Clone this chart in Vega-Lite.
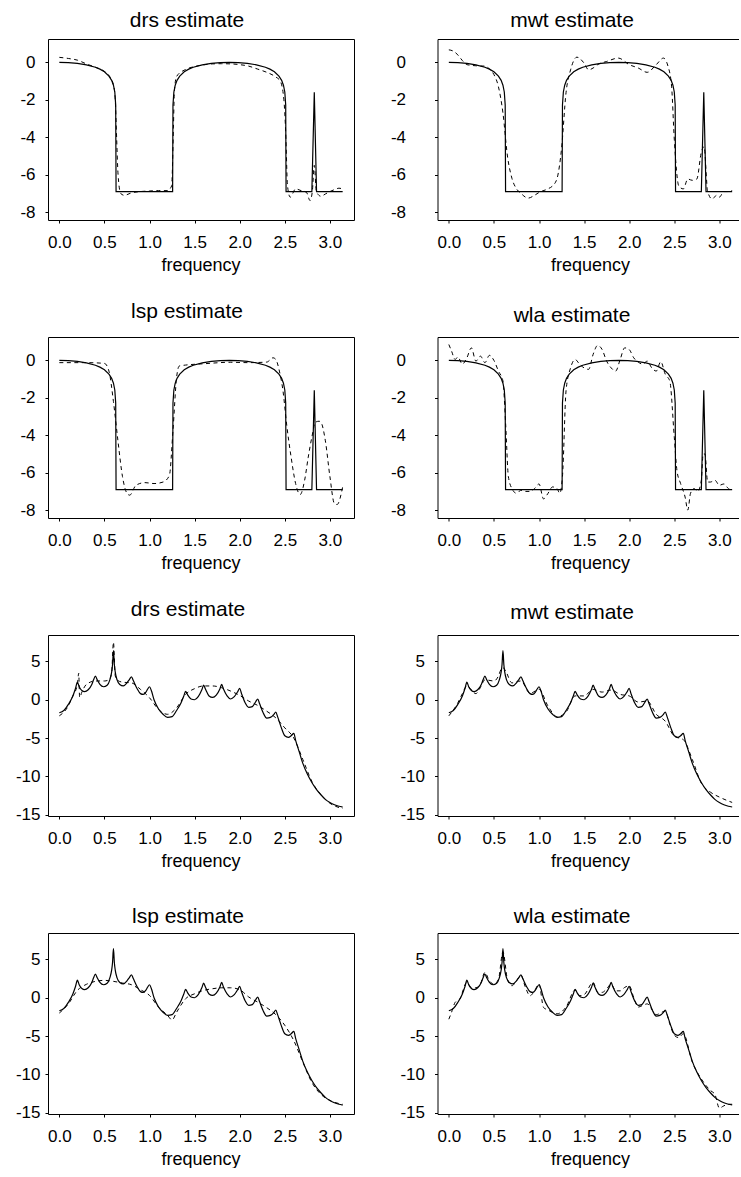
{
"$schema": "https://vega.github.io/schema/vega-lite/v6.json",
"background": "white",
"padding": {"left": 15, "top": 10, "right": 0, "bottom": 0},
"columns": 2,
"bounds": "flush",
"spacing": {"row": 117, "column": 83.5},
"config": {
  "font": "Liberation Sans",
  "view": {"stroke": null},
  "axis": {"grid": false, "domainColor": "black", "tickColor": "black", "labelColor": "black", "titleColor": "black", "labelFont": "Liberation Sans", "titleFont": "Liberation Sans", "labelFontSize": 17, "titleFontSize": 18, "titleFontWeight": "normal", "tickSize": 3, "domainWidth": 1, "tickWidth": 1},
  "title": {"font": "Liberation Sans", "fontSize": 21, "fontWeight": "normal", "color": "black", "frame": "group", "anchor": "middle"},
  "line": {"color": "black", "clip": true}
},
"datasets": {
  "tt": [{"f":0,"v":0},{"f":0.1,"v":-0.013},{"f":0.2,"v":-0.053},{"f":0.3,"v":-0.13},{"f":0.4,"v":-0.26},{"f":0.45,"v":-0.36},{"f":0.5,"v":-0.5},{"f":0.55,"v":-0.73},{"f":0.58,"v":-0.96},{"f":0.6,"v":-1.22},{"f":0.615,"v":-1.58},{"f":0.625,"v":-2.28},{"f":0.629,"v":-6.908},{"f":1.256,"v":-6.908},{"f":1.26,"v":-2.28},{"f":1.27,"v":-1.58},{"f":1.285,"v":-1.22},{"f":1.305,"v":-0.96},{"f":1.335,"v":-0.73},{"f":1.385,"v":-0.5},{"f":1.435,"v":-0.36},{"f":1.485,"v":-0.26},{"f":1.585,"v":-0.13},{"f":1.685,"v":-0.053},{"f":1.785,"v":-0.013},{"f":1.885,"v":0},{"f":1.985,"v":-0.013},{"f":2.085,"v":-0.053},{"f":2.185,"v":-0.13},{"f":2.285,"v":-0.26},{"f":2.335,"v":-0.36},{"f":2.385,"v":-0.5},{"f":2.435,"v":-0.73},{"f":2.465,"v":-0.96},{"f":2.485,"v":-1.22},{"f":2.5,"v":-1.58},{"f":2.51,"v":-2.28},{"f":2.514,"v":-6.908},{"f":2.8,"v":-6.908},{"f":2.827,"v":-1.6},{"f":2.852,"v":-6.908},{"f":3.1416,"v":-6.908}],
  "td_drs": [{"f":0,"v":0.27},{"f":0.1,"v":0.21},{"f":0.2,"v":0.12},{"f":0.3,"v":-0.08},{"f":0.4,"v":-0.26},{"f":0.5,"v":-0.48},{"f":0.55,"v":-0.7},{"f":0.6,"v":-1.2},{"f":0.62,"v":-2.0},{"f":0.635,"v":-4.0},{"f":0.65,"v":-5.9},{"f":0.68,"v":-7.0},{"f":0.72,"v":-7.1},{"f":0.8,"v":-6.97},{"f":0.9,"v":-6.9},{"f":1.0,"v":-6.87},{"f":1.1,"v":-6.85},{"f":1.2,"v":-6.85},{"f":1.245,"v":-6.6},{"f":1.265,"v":-3.5},{"f":1.275,"v":-1.6},{"f":1.3,"v":-0.75},{"f":1.4,"v":-0.38},{"f":1.5,"v":-0.22},{"f":1.6,"v":-0.13},{"f":1.7,"v":-0.08},{"f":1.8,"v":-0.07},{"f":1.9,"v":-0.08},{"f":2.0,"v":-0.12},{"f":2.1,"v":-0.2},{"f":2.2,"v":-0.36},{"f":2.3,"v":-0.53},{"f":2.4,"v":-0.78},{"f":2.45,"v":-1.0},{"f":2.49,"v":-2.0},{"f":2.51,"v":-3.75},{"f":2.53,"v":-6.6},{"f":2.56,"v":-7.2},{"f":2.62,"v":-6.76},{"f":2.68,"v":-6.85},{"f":2.74,"v":-6.94},{"f":2.78,"v":-7.38},{"f":2.805,"v":-6.9},{"f":2.827,"v":-5.5},{"f":2.85,"v":-6.9},{"f":2.9,"v":-7.15},{"f":2.95,"v":-7.03},{"f":3.0,"v":-6.9},{"f":3.05,"v":-6.8},{"f":3.1,"v":-6.72},{"f":3.1416,"v":-6.76}],
  "td_mwt": [{"f":0,"v":0.67},{"f":0.05,"v":0.6},{"f":0.1,"v":0.4},{"f":0.15,"v":0.1},{"f":0.2,"v":-0.12},{"f":0.3,"v":-0.18},{"f":0.4,"v":-0.2},{"f":0.45,"v":-0.35},{"f":0.5,"v":-0.65},{"f":0.55,"v":-1.3},{"f":0.6,"v":-2.7},{"f":0.65,"v":-5.0},{"f":0.7,"v":-6.2},{"f":0.75,"v":-6.75},{"f":0.8,"v":-7.0},{"f":0.88,"v":-7.25},{"f":0.95,"v":-7.1},{"f":1.0,"v":-6.95},{"f":1.1,"v":-6.75},{"f":1.15,"v":-6.6},{"f":1.2,"v":-6.2},{"f":1.25,"v":-4.6},{"f":1.3,"v":-1.6},{"f":1.35,"v":-0.4},{"f":1.42,"v":0.28},{"f":1.5,"v":-0.04},{"f":1.55,"v":-0.4},{"f":1.6,"v":-0.3},{"f":1.65,"v":-0.12},{"f":1.75,"v":0.05},{"f":1.88,"v":0.23},{"f":2.0,"v":-0.12},{"f":2.1,"v":-0.3},{"f":2.2,"v":-0.53},{"f":2.3,"v":-0.12},{"f":2.38,"v":0.23},{"f":2.43,"v":-0.2},{"f":2.47,"v":-1.27},{"f":2.5,"v":-4.1},{"f":2.55,"v":-6.6},{"f":2.6,"v":-6.76},{"f":2.65,"v":-6.23},{"f":2.7,"v":-6.3},{"f":2.75,"v":-6.23},{"f":2.8,"v":-4.8},{"f":2.83,"v":-4.5},{"f":2.87,"v":-6.9},{"f":2.92,"v":-7.3},{"f":2.97,"v":-7.1},{"f":3.0,"v":-7.2},{"f":3.05,"v":-6.9},{"f":3.1,"v":-6.9},{"f":3.1416,"v":-6.85}],
  "td_lsp": [{"f":0,"v":-0.12},{"f":0.3,"v":-0.12},{"f":0.5,"v":-0.16},{"f":0.55,"v":-0.57},{"f":0.6,"v":-2.2},{"f":0.65,"v":-4.3},{"f":0.7,"v":-6.2},{"f":0.75,"v":-7.1},{"f":0.78,"v":-7.2},{"f":0.85,"v":-6.67},{"f":0.95,"v":-6.53},{"f":1.05,"v":-6.58},{"f":1.15,"v":-6.5},{"f":1.22,"v":-6.15},{"f":1.26,"v":-3.75},{"f":1.3,"v":-0.92},{"f":1.33,"v":-0.3},{"f":1.4,"v":-0.25},{"f":1.6,"v":-0.18},{"f":1.9,"v":-0.1},{"f":2.1,"v":-0.12},{"f":2.3,"v":-0.09},{"f":2.37,"v":0.14},{"f":2.4,"v":0.05},{"f":2.44,"v":-0.57},{"f":2.48,"v":-1.63},{"f":2.52,"v":-3.4},{"f":2.57,"v":-5.17},{"f":2.62,"v":-6.58},{"f":2.67,"v":-7.17},{"f":2.72,"v":-6.4},{"f":2.76,"v":-5.17},{"f":2.8,"v":-4.1},{"f":2.84,"v":-3.3},{"f":2.88,"v":-3.25},{"f":2.9,"v":-3.3},{"f":2.95,"v":-4.3},{"f":3.0,"v":-6.2},{"f":3.05,"v":-7.65},{"f":3.08,"v":-7.7},{"f":3.1416,"v":-6.76}],
  "td_wla": [{"f":0,"v":0.85},{"f":0.03,"v":0.5},{"f":0.07,"v":0.05},{"f":0.1,"v":0.18},{"f":0.15,"v":-0.2},{"f":0.2,"v":0.14},{"f":0.25,"v":0.67},{"f":0.3,"v":-0.04},{"f":0.35,"v":0.23},{"f":0.4,"v":-0.12},{"f":0.45,"v":0.27},{"f":0.5,"v":0.0},{"f":0.55,"v":-0.57},{"f":0.6,"v":-1.1},{"f":0.63,"v":-3.4},{"f":0.66,"v":-6.2},{"f":0.7,"v":-6.85},{"f":0.75,"v":-7.1},{"f":0.8,"v":-6.94},{"f":0.85,"v":-7.0},{"f":0.9,"v":-7.0},{"f":0.95,"v":-6.85},{"f":1.0,"v":-6.6},{"f":1.05,"v":-7.4},{"f":1.1,"v":-7.1},{"f":1.15,"v":-6.76},{"f":1.2,"v":-6.85},{"f":1.23,"v":-7.1},{"f":1.26,"v":-6.2},{"f":1.3,"v":-1.6},{"f":1.35,"v":-0.4},{"f":1.4,"v":0.05},{"f":1.45,"v":-0.2},{"f":1.5,"v":-0.4},{"f":1.55,"v":-0.48},{"f":1.6,"v":0.32},{"f":1.65,"v":0.8},{"f":1.7,"v":0.58},{"f":1.75,"v":-0.04},{"f":1.8,"v":-0.4},{"f":1.85,"v":-0.57},{"f":1.9,"v":0.05},{"f":1.95,"v":0.67},{"f":2.0,"v":0.58},{"f":2.05,"v":0.14},{"f":2.1,"v":-0.09},{"f":2.15,"v":-0.2},{"f":2.2,"v":-0.04},{"f":2.25,"v":-0.4},{"f":2.3,"v":-0.57},{"f":2.35,"v":-0.07},{"f":2.4,"v":-0.74},{"f":2.45,"v":-1.1},{"f":2.5,"v":-4.1},{"f":2.53,"v":-5.9},{"f":2.57,"v":-6.58},{"f":2.62,"v":-7.3},{"f":2.65,"v":-8.0},{"f":2.68,"v":-7.1},{"f":2.72,"v":-6.85},{"f":2.76,"v":-7.0},{"f":2.8,"v":-6.4},{"f":2.82,"v":-5.0},{"f":2.84,"v":-5.0},{"f":2.87,"v":-6.5},{"f":2.9,"v":-6.5},{"f":2.95,"v":-6.4},{"f":3.0,"v":-6.67},{"f":3.05,"v":-6.6},{"f":3.1,"v":-6.85},{"f":3.1416,"v":-6.94}],
  "bt": [{"f":0,"v":-1.7},{"f":0.05,"v":-1.4},{"f":0.1,"v":-0.6},{"f":0.15,"v":0.5},{"f":0.18,"v":1.5},{"f":0.2,"v":2.3},{"f":0.22,"v":1.7},{"f":0.25,"v":1.2},{"f":0.28,"v":1.05},{"f":0.32,"v":1.3},{"f":0.36,"v":2.0},{"f":0.38,"v":2.6},{"f":0.4,"v":3.1},{"f":0.42,"v":2.6},{"f":0.45,"v":2.0},{"f":0.49,"v":1.7},{"f":0.53,"v":1.9},{"f":0.56,"v":2.6},{"f":0.58,"v":3.6},{"f":0.59,"v":4.6},{"f":0.6,"v":6.4},{"f":0.61,"v":4.6},{"f":0.62,"v":3.6},{"f":0.64,"v":2.6},{"f":0.67,"v":2.0},{"f":0.71,"v":1.8},{"f":0.75,"v":2.2},{"f":0.78,"v":2.7},{"f":0.8,"v":3.0},{"f":0.82,"v":2.5},{"f":0.86,"v":1.5},{"f":0.9,"v":0.8},{"f":0.93,"v":0.7},{"f":0.96,"v":1.0},{"f":0.98,"v":1.4},{"f":1.0,"v":1.7},{"f":1.02,"v":1.2},{"f":1.05,"v":0.0},{"f":1.1,"v":-1.2},{"f":1.15,"v":-1.9},{"f":1.2,"v":-2.3},{"f":1.25,"v":-2.2},{"f":1.3,"v":-1.4},{"f":1.35,"v":-0.4},{"f":1.38,"v":0.5},{"f":1.4,"v":1.1},{"f":1.42,"v":0.7},{"f":1.46,"v":0.1},{"f":1.5,"v":0.0},{"f":1.54,"v":0.4},{"f":1.58,"v":1.3},{"f":1.6,"v":1.9},{"f":1.62,"v":1.4},{"f":1.66,"v":0.5},{"f":1.7,"v":0.3},{"f":1.74,"v":0.6},{"f":1.78,"v":1.4},{"f":1.8,"v":2.0},{"f":1.82,"v":1.4},{"f":1.86,"v":0.5},{"f":1.9,"v":0.1},{"f":1.94,"v":0.4},{"f":1.98,"v":1.1},{"f":2.0,"v":1.5},{"f":2.02,"v":0.8},{"f":2.06,"v":-0.4},{"f":2.1,"v":-1.0},{"f":2.14,"v":-0.9},{"f":2.18,"v":-0.2},{"f":2.2,"v":0.1},{"f":2.22,"v":-0.5},{"f":2.26,"v":-1.7},{"f":2.3,"v":-2.4},{"f":2.34,"v":-2.3},{"f":2.38,"v":-1.9},{"f":2.4,"v":-1.6},{"f":2.42,"v":-2.2},{"f":2.46,"v":-3.6},{"f":2.5,"v":-4.7},{"f":2.54,"v":-4.9},{"f":2.57,"v":-4.7},{"f":2.6,"v":-4.4},{"f":2.62,"v":-5.3},{"f":2.66,"v":-6.8},{"f":2.7,"v":-8.3},{"f":2.75,"v":-9.7},{"f":2.8,"v":-10.8},{"f":2.85,"v":-11.7},{"f":2.9,"v":-12.4},{"f":2.95,"v":-13.0},{"f":3.0,"v":-13.4},{"f":3.05,"v":-13.7},{"f":3.1,"v":-13.9},{"f":3.1416,"v":-14.0}],
  "bd_drs": [{"f":0,"v":-2.1},{"f":0.1,"v":-0.8},{"f":0.15,"v":0.5},{"f":0.2,"v":2.0},{"f":0.215,"v":3.45},{"f":0.225,"v":0.3},{"f":0.25,"v":1.0},{"f":0.3,"v":2.0},{"f":0.4,"v":2.45},{"f":0.5,"v":2.45},{"f":0.55,"v":2.6},{"f":0.58,"v":3.5},{"f":0.6,"v":7.5},{"f":0.62,"v":3.1},{"f":0.65,"v":2.5},{"f":0.7,"v":2.3},{"f":0.8,"v":2.2},{"f":0.9,"v":1.35},{"f":1.0,"v":0.26},{"f":1.1,"v":-1.27},{"f":1.2,"v":-1.9},{"f":1.3,"v":-1.05},{"f":1.4,"v":0.7},{"f":1.5,"v":1.45},{"f":1.6,"v":1.8},{"f":1.7,"v":1.8},{"f":1.8,"v":1.57},{"f":1.9,"v":1.13},{"f":2.0,"v":0.57},{"f":2.1,"v":-0.17},{"f":2.2,"v":-0.74},{"f":2.3,"v":-1.5},{"f":2.4,"v":-2.36},{"f":2.5,"v":-3.67},{"f":2.6,"v":-5.0},{"f":2.7,"v":-7.8},{"f":2.8,"v":-10.65},{"f":2.9,"v":-12.4},{"f":3.0,"v":-13.5},{"f":3.1416,"v":-14.2}],
  "bd_mwt": [{"f":0,"v":-2.1},{"f":0.1,"v":-0.4},{"f":0.15,"v":0.8},{"f":0.2,"v":1.8},{"f":0.3,"v":0.8},{"f":0.35,"v":1.6},{"f":0.4,"v":2.6},{"f":0.5,"v":2.45},{"f":0.55,"v":3.1},{"f":0.58,"v":4.0},{"f":0.6,"v":4.2},{"f":0.63,"v":3.75},{"f":0.7,"v":2.2},{"f":0.8,"v":2.45},{"f":0.9,"v":0.83},{"f":1.0,"v":1.35},{"f":1.1,"v":-0.83},{"f":1.2,"v":-2.2},{"f":1.3,"v":-1.6},{"f":1.4,"v":0.5},{"f":1.5,"v":0.5},{"f":1.6,"v":1.35},{"f":1.7,"v":1.0},{"f":1.8,"v":1.27},{"f":1.9,"v":0.7},{"f":2.0,"v":0.5},{"f":2.1,"v":-0.3},{"f":2.2,"v":-0.17},{"f":2.3,"v":-1.9},{"f":2.4,"v":-2.8},{"f":2.5,"v":-4.76},{"f":2.6,"v":-5.2},{"f":2.7,"v":-7.8},{"f":2.8,"v":-10.9},{"f":2.9,"v":-12.05},{"f":3.0,"v":-12.7},{"f":3.1416,"v":-13.4}],
  "bd_lsp": [{"f":0,"v":-2.0},{"f":0.1,"v":-0.8},{"f":0.2,"v":0.96},{"f":0.3,"v":1.75},{"f":0.4,"v":2.14},{"f":0.5,"v":2.27},{"f":0.6,"v":2.14},{"f":0.7,"v":1.92},{"f":0.8,"v":1.7},{"f":0.9,"v":1.05},{"f":1.0,"v":0.3},{"f":1.1,"v":-1.22},{"f":1.2,"v":-2.3},{"f":1.25,"v":-2.9},{"f":1.3,"v":-1.9},{"f":1.4,"v":-0.13},{"f":1.5,"v":0.52},{"f":1.6,"v":0.96},{"f":1.7,"v":1.18},{"f":1.8,"v":1.3},{"f":1.9,"v":1.3},{"f":2.0,"v":1.05},{"f":2.1,"v":0.1},{"f":2.2,"v":-0.57},{"f":2.3,"v":-1.3},{"f":2.4,"v":-2.2},{"f":2.5,"v":-3.6},{"f":2.6,"v":-5.6},{"f":2.7,"v":-8.4},{"f":2.8,"v":-11.05},{"f":2.9,"v":-12.6},{"f":3.0,"v":-13.4},{"f":3.1416,"v":-13.9}],
  "bd_wla": [{"f":0,"v":-2.8},{"f":0.03,"v":-1.9},{"f":0.07,"v":-0.6},{"f":0.12,"v":-0.2},{"f":0.2,"v":2.0},{"f":0.25,"v":1.35},{"f":0.3,"v":1.3},{"f":0.35,"v":1.8},{"f":0.4,"v":3.3},{"f":0.45,"v":2.2},{"f":0.5,"v":1.8},{"f":0.55,"v":2.4},{"f":0.6,"v":6.0},{"f":0.65,"v":2.4},{"f":0.7,"v":1.57},{"f":0.75,"v":2.2},{"f":0.8,"v":2.9},{"f":0.85,"v":1.35},{"f":0.9,"v":0.26},{"f":0.95,"v":0.9},{"f":1.0,"v":1.8},{"f":1.05,"v":-1.27},{"f":1.1,"v":-1.6},{"f":1.2,"v":-2.1},{"f":1.3,"v":-1.2},{"f":1.4,"v":1.0},{"f":1.45,"v":0.26},{"f":1.5,"v":0.4},{"f":1.6,"v":2.0},{"f":1.65,"v":0.7},{"f":1.7,"v":0.7},{"f":1.75,"v":1.15},{"f":1.8,"v":1.8},{"f":1.85,"v":0.9},{"f":1.9,"v":0.9},{"f":1.95,"v":1.35},{"f":2.0,"v":1.57},{"f":2.05,"v":0.04},{"f":2.1,"v":-1.22},{"f":2.15,"v":-1.0},{"f":2.2,"v":-0.8},{"f":2.3,"v":-2.2},{"f":2.4,"v":-1.75},{"f":2.45,"v":-3.4},{"f":2.5,"v":-4.9},{"f":2.55,"v":-5.2},{"f":2.6,"v":-4.7},{"f":2.7,"v":-8.4},{"f":2.8,"v":-10.6},{"f":2.9,"v":-12.1},{"f":2.95,"v":-12.6},{"f":3.0,"v":-14.4},{"f":3.05,"v":-14.1},{"f":3.1,"v":-13.9},{"f":3.1416,"v":-13.9}]
},
"concat": [
  {"width": 306, "height": 181, "title": {"text": "drs estimate", "dx": -14, "offset": 8, "fontWeight": "normal"},
   "layer": [
    {"data": {"name": "tt"}, "mark": {"type": "line", "strokeWidth": 1.2},
     "encoding": {
      "x": {"field": "f", "type": "quantitative", "scale": {"domain": [-0.1257, 3.2673], "nice": false, "zero": false}, "axis": {"orient": "bottom", "values": [0, 0.5, 1, 1.5, 2, 2.5, 3], "format": ".1f", "title": "frequency", "titleX": 152.5, "labelPadding": 11, "titlePadding": 6}},
      "y": {"field": "v", "type": "quantitative", "scale": {"domain": [-8.42, 1.25], "nice": false, "zero": false}, "axis": {"orient": "left", "values": [0, -2, -4, -6, -8], "labelExpr": "'' + datum.value", "title": null, "labelPadding": 10}}}},
    {"data": {"name": "td_drs"}, "mark": {"type": "line", "strokeWidth": 1, "strokeDash": [4, 3.5], "interpolate": "monotone"},
     "encoding": {
      "x": {"field": "f", "type": "quantitative", "axis": {"orient": "top", "labels": false, "ticks": false, "title": null, "minExtent": 0, "maxExtent": 0}},
      "y": {"field": "v", "type": "quantitative", "axis": {"orient": "right", "labels": false, "ticks": false, "title": null, "minExtent": 0, "maxExtent": 0}}}}
   ]},
  {"width": 301, "height": 181, "title": {"text": "mwt estimate", "dx": -16, "offset": 8, "fontWeight": "normal"},
   "layer": [
    {"data": {"name": "tt"}, "mark": {"type": "line", "strokeWidth": 1.2},
     "encoding": {
      "x": {"field": "f", "type": "quantitative", "scale": {"domain": [-0.1257, 3.2121], "nice": false, "zero": false}, "axis": {"orient": "bottom", "values": [0, 0.5, 1, 1.5, 2, 2.5, 3], "format": ".1f", "title": "frequency", "titleX": 152.5, "labelPadding": 11, "titlePadding": 6}},
      "y": {"field": "v", "type": "quantitative", "scale": {"domain": [-8.42, 1.25], "nice": false, "zero": false}, "axis": {"orient": "left", "values": [0, -2, -4, -6, -8], "labelExpr": "'' + datum.value", "title": null, "labelPadding": 29}}}},
    {"data": {"name": "td_mwt"}, "mark": {"type": "line", "strokeWidth": 1, "strokeDash": [4, 3.5], "interpolate": "monotone"},
     "encoding": {
      "x": {"field": "f", "type": "quantitative", "axis": {"orient": "top", "labels": false, "ticks": false, "title": null, "minExtent": 0, "maxExtent": 0}},
      "y": {"field": "v", "type": "quantitative"}}}
   ]},
  {"width": 306, "height": 181, "title": {"text": "lsp estimate", "dx": -14, "offset": 15, "fontWeight": "normal"},
   "layer": [
    {"data": {"name": "tt"}, "mark": {"type": "line", "strokeWidth": 1.2},
     "encoding": {
      "x": {"field": "f", "type": "quantitative", "scale": {"domain": [-0.1257, 3.2673], "nice": false, "zero": false}, "axis": {"orient": "bottom", "values": [0, 0.5, 1, 1.5, 2, 2.5, 3], "format": ".1f", "title": "frequency", "titleX": 152.5, "labelPadding": 11, "titlePadding": 6}},
      "y": {"field": "v", "type": "quantitative", "scale": {"domain": [-8.42, 1.25], "nice": false, "zero": false}, "axis": {"orient": "left", "values": [0, -2, -4, -6, -8], "labelExpr": "'' + datum.value", "title": null, "labelPadding": 10}}}},
    {"data": {"name": "td_lsp"}, "mark": {"type": "line", "strokeWidth": 1, "strokeDash": [4, 3.5], "interpolate": "monotone"},
     "encoding": {
      "x": {"field": "f", "type": "quantitative", "axis": {"orient": "top", "labels": false, "ticks": false, "title": null, "minExtent": 0, "maxExtent": 0}},
      "y": {"field": "v", "type": "quantitative", "axis": {"orient": "right", "labels": false, "ticks": false, "title": null, "minExtent": 0, "maxExtent": 0}}}}
   ]},
  {"width": 301, "height": 181, "title": {"text": "wla estimate", "dx": -16, "offset": 11, "fontWeight": "normal"},
   "layer": [
    {"data": {"name": "tt"}, "mark": {"type": "line", "strokeWidth": 1.2},
     "encoding": {
      "x": {"field": "f", "type": "quantitative", "scale": {"domain": [-0.1257, 3.2121], "nice": false, "zero": false}, "axis": {"orient": "bottom", "values": [0, 0.5, 1, 1.5, 2, 2.5, 3], "format": ".1f", "title": "frequency", "titleX": 152.5, "labelPadding": 11, "titlePadding": 6}},
      "y": {"field": "v", "type": "quantitative", "scale": {"domain": [-8.42, 1.25], "nice": false, "zero": false}, "axis": {"orient": "left", "values": [0, -2, -4, -6, -8], "labelExpr": "'' + datum.value", "title": null, "labelPadding": 29}}}},
    {"data": {"name": "td_wla"}, "mark": {"type": "line", "strokeWidth": 1, "strokeDash": [4, 3.5], "interpolate": "monotone"},
     "encoding": {
      "x": {"field": "f", "type": "quantitative", "axis": {"orient": "top", "labels": false, "ticks": false, "title": null, "minExtent": 0, "maxExtent": 0}},
      "y": {"field": "v", "type": "quantitative"}}}
   ]},
  {"width": 306, "height": 181, "title": {"text": "drs estimate", "dx": -13, "offset": 15, "fontWeight": "normal"},
   "layer": [
    {"data": {"name": "bt"}, "mark": {"type": "line", "strokeWidth": 1.2, "interpolate": "monotone"},
     "encoding": {
      "x": {"field": "f", "type": "quantitative", "scale": {"domain": [-0.1257, 3.2673], "nice": false, "zero": false}, "axis": {"orient": "bottom", "values": [0, 0.5, 1, 1.5, 2, 2.5, 3], "format": ".1f", "title": "frequency", "titleX": 152.5, "labelPadding": 11, "titlePadding": 6}},
      "y": {"field": "v", "type": "quantitative", "scale": {"domain": [-15.17, 8.45], "nice": false, "zero": false}, "axis": {"orient": "left", "values": [5, 0, -5, -10, -15], "labelExpr": "'' + datum.value", "title": null, "labelPadding": 5}}}},
    {"data": {"name": "bd_drs"}, "mark": {"type": "line", "strokeWidth": 1, "strokeDash": [4, 3.5], "interpolate": "monotone"},
     "encoding": {
      "x": {"field": "f", "type": "quantitative", "axis": {"orient": "top", "labels": false, "ticks": false, "title": null, "minExtent": 0, "maxExtent": 0}},
      "y": {"field": "v", "type": "quantitative", "axis": {"orient": "right", "labels": false, "ticks": false, "title": null, "minExtent": 0, "maxExtent": 0}}}}
   ]},
  {"width": 301, "height": 181, "title": {"text": "mwt estimate", "dx": -16, "offset": 12, "fontWeight": "normal"},
   "layer": [
    {"data": {"name": "bt"}, "mark": {"type": "line", "strokeWidth": 1.2, "interpolate": "monotone"},
     "encoding": {
      "x": {"field": "f", "type": "quantitative", "scale": {"domain": [-0.1257, 3.2121], "nice": false, "zero": false}, "axis": {"orient": "bottom", "values": [0, 0.5, 1, 1.5, 2, 2.5, 3], "format": ".1f", "title": "frequency", "titleX": 152.5, "labelPadding": 11, "titlePadding": 6}},
      "y": {"field": "v", "type": "quantitative", "scale": {"domain": [-15.17, 8.45], "nice": false, "zero": false}, "axis": {"orient": "left", "values": [5, 0, -5, -10, -15], "labelExpr": "'' + datum.value", "title": null, "labelPadding": 10}}}},
    {"data": {"name": "bd_mwt"}, "mark": {"type": "line", "strokeWidth": 1, "strokeDash": [4, 3.5], "interpolate": "monotone"},
     "encoding": {
      "x": {"field": "f", "type": "quantitative", "axis": {"orient": "top", "labels": false, "ticks": false, "title": null, "minExtent": 0, "maxExtent": 0}},
      "y": {"field": "v", "type": "quantitative"}}}
   ]},
  {"width": 306, "height": 181, "title": {"text": "lsp estimate", "dx": -13, "offset": 6, "fontWeight": "normal"},
   "layer": [
    {"data": {"name": "bt"}, "mark": {"type": "line", "strokeWidth": 1.2, "interpolate": "monotone"},
     "encoding": {
      "x": {"field": "f", "type": "quantitative", "scale": {"domain": [-0.1257, 3.2673], "nice": false, "zero": false}, "axis": {"orient": "bottom", "values": [0, 0.5, 1, 1.5, 2, 2.5, 3], "format": ".1f", "title": "frequency", "titleX": 152.5, "labelPadding": 11, "titlePadding": 6}},
      "y": {"field": "v", "type": "quantitative", "scale": {"domain": [-15.17, 8.45], "nice": false, "zero": false}, "axis": {"orient": "left", "values": [5, 0, -5, -10, -15], "labelExpr": "'' + datum.value", "title": null, "labelPadding": 5}}}},
    {"data": {"name": "bd_lsp"}, "mark": {"type": "line", "strokeWidth": 1, "strokeDash": [4, 3.5], "interpolate": "monotone"},
     "encoding": {
      "x": {"field": "f", "type": "quantitative", "axis": {"orient": "top", "labels": false, "ticks": false, "title": null, "minExtent": 0, "maxExtent": 0}},
      "y": {"field": "v", "type": "quantitative", "axis": {"orient": "right", "labels": false, "ticks": false, "title": null, "minExtent": 0, "maxExtent": 0}}}}
   ]},
  {"width": 301, "height": 181, "title": {"text": "wla estimate", "dx": -16, "offset": 6, "fontWeight": "normal"},
   "layer": [
    {"data": {"name": "bt"}, "mark": {"type": "line", "strokeWidth": 1.2, "interpolate": "monotone"},
     "encoding": {
      "x": {"field": "f", "type": "quantitative", "scale": {"domain": [-0.1257, 3.2121], "nice": false, "zero": false}, "axis": {"orient": "bottom", "values": [0, 0.5, 1, 1.5, 2, 2.5, 3], "format": ".1f", "title": "frequency", "titleX": 152.5, "labelPadding": 11, "titlePadding": 6}},
      "y": {"field": "v", "type": "quantitative", "scale": {"domain": [-15.17, 8.45], "nice": false, "zero": false}, "axis": {"orient": "left", "values": [5, 0, -5, -10, -15], "labelExpr": "'' + datum.value", "title": null, "labelPadding": 10}}}},
    {"data": {"name": "bd_wla"}, "mark": {"type": "line", "strokeWidth": 1, "strokeDash": [4, 3.5], "interpolate": "monotone"},
     "encoding": {
      "x": {"field": "f", "type": "quantitative", "axis": {"orient": "top", "labels": false, "ticks": false, "title": null, "minExtent": 0, "maxExtent": 0}},
      "y": {"field": "v", "type": "quantitative"}}}
   ]}
]
}
